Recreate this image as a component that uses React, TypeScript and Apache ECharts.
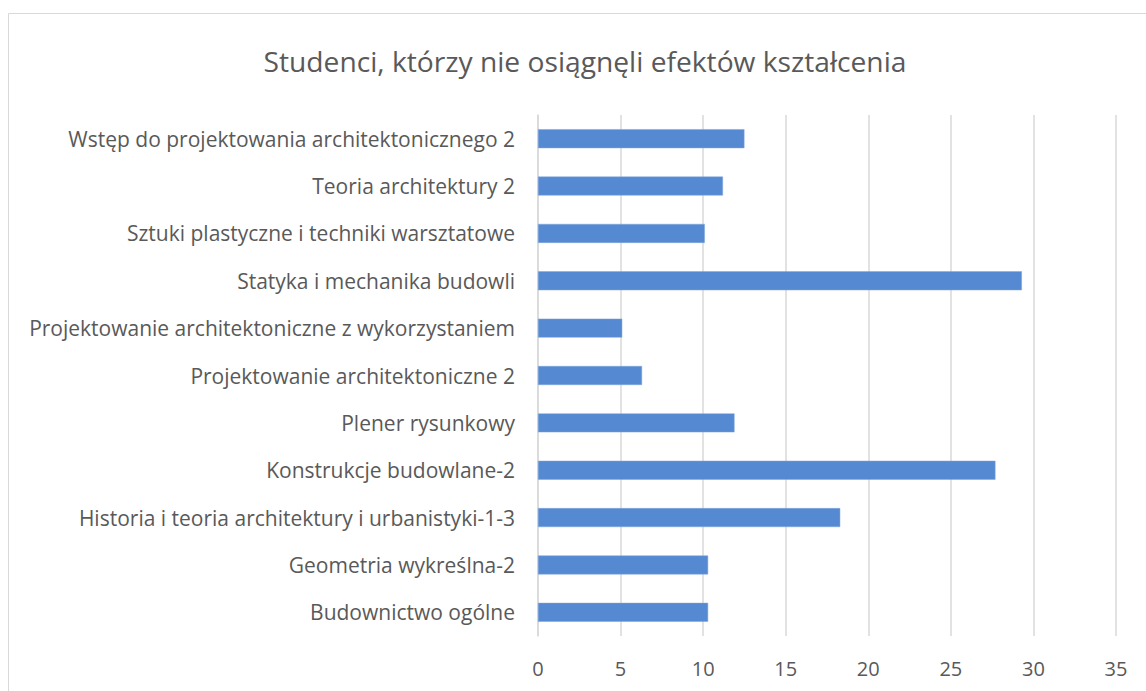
import React, { useEffect, useRef } from "react";
import * as echarts from "echarts";

const titleText = "Studenci, którzy nie osiągnęli efektów kształcenia";
const categories = [
  "Wstęp do projektowania architektonicznego 2",
  "Teoria architektury 2",
  "Sztuki plastyczne i techniki warsztatowe",
  "Statyka i mechanika budowli",
  "Projektowanie architektoniczne z wykorzystaniem",
  "Projektowanie architektoniczne 2",
  "Plener rysunkowy",
  "Konstrukcje budowlane-2",
  "Historia i teoria architektury i urbanistyki-1-3",
  "Geometria wykreślna-2",
  "Budownictwo ogólne",
];
const values = [12.5, 11.2, 10.1, 29.3, 5.1, 6.3, 11.9, 27.7, 18.3, 10.3, 10.3];
const xMin = 0;
const xMax = 35;
const xStep = 5;

export default function App() {
  const ref = useRef<HTMLDivElement>(null);
  useEffect(() => {
    if (!ref.current) return;
    const chart = echarts.init(ref.current, undefined, { renderer: "svg" });
    const font = "'Open Sans', sans-serif";
    chart.setOption({
      animation: false,
      backgroundColor: "#ffffff",
      title: {
        text: titleText,
        left: 580,
        top: 42,
        textAlign: "center",
        textStyle: { fontFamily: font, fontSize: 28.2, fontWeight: "normal", color: "#595959" },
      },
      graphic: [
        {
          type: "rect",
          shape: { x: 8.5, y: 13.5, width: 1200, height: 800 },
          style: { fill: "none", stroke: "#d9d9d9", lineWidth: 1 },
          silent: true,
        },
      ],
      grid: { left: 538, right: 30, top: 115, bottom: 55, containLabel: false },
      xAxis: {
        type: "value",
        min: xMin,
        max: xMax,
        interval: xStep,
        axisLine: { show: false },
        axisTick: { show: false },
        axisLabel: { color: "#595959", fontSize: 20, fontFamily: font, margin: 22 },
        splitLine: { show: true, lineStyle: { color: "#d9d9d9", width: 1.5 } },
      },
      yAxis: {
        type: "category",
        data: categories,
        inverse: true,
        axisLine: { show: true, lineStyle: { color: "#d9d9d9", width: 1.5 } },
        axisTick: { show: false },
        axisLabel: { color: "#595959", fontSize: 21, fontFamily: font, margin: 23 },
      },
      series: [
        {
          type: "bar",
          data: values,
          barCategoryGap: "60%",
          itemStyle: { color: "#5589d1", borderColor: "#7ea6de", borderWidth: 0.5 },
        },
      ],
    });
    return () => chart.dispose();
  }, []);
  return (
    <div
      ref={ref}
      style={{ position: "fixed", left: 0, top: 0, width: 1146, height: 691 }}
    />
  );
}
